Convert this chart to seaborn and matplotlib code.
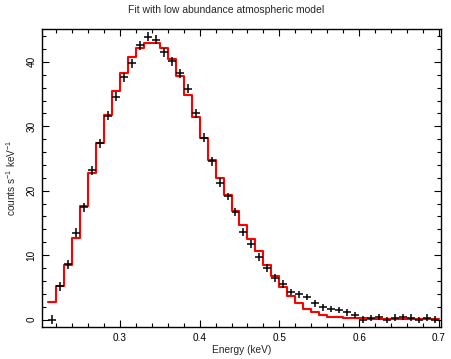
import numpy as np
import pandas as pd
import matplotlib
matplotlib.use("Agg")
import matplotlib.pyplot as plt
from matplotlib.ticker import MultipleLocator
import seaborn as sns

# ---- data ----
energy = [0.215, 0.225, 0.235, 0.245, 0.255, 0.265, 0.275, 0.285, 0.295, 0.305,
          0.315, 0.325, 0.335, 0.345, 0.355, 0.365, 0.375, 0.385, 0.395, 0.405,
          0.415, 0.425, 0.435, 0.445, 0.455, 0.465, 0.475, 0.485, 0.495, 0.505,
          0.515, 0.525, 0.535, 0.545, 0.555, 0.565, 0.575, 0.585, 0.595, 0.605,
          0.615, 0.625, 0.635, 0.645, 0.655, 0.665, 0.675, 0.685, 0.695]
bin_halfwidth = 0.005
counts = [0.0, 5.2, 8.6, 13.5, 17.4, 23.2, 27.4, 31.6, 34.6, 37.6,
          39.8, 42.6, 43.9, 43.4, 41.5, 40.1, 38.2, 35.8, 32.0, 28.2,
          24.6, 21.2, 19.1, 16.7, 13.6, 11.7, 9.7, 8.0, 6.4, 5.5,
          4.3, 3.9, 3.5, 2.5, 1.9, 1.6, 1.5, 1.1, 0.7, 0.0,
          0.2, 0.4, -0.1, 0.3, 0.4, 0.3, -0.1, 0.3, 0.0]
count_err = [0.7, 0.7, 0.7, 0.7, 0.7, 0.7, 0.7, 0.7, 0.7, 0.7,
             0.7, 0.7, 0.7, 0.7, 0.7, 0.7, 0.7, 0.7, 0.7, 0.7,
             0.7, 0.7, 0.6, 0.6, 0.6, 0.6, 0.6, 0.6, 0.6, 0.6,
             0.5, 0.5, 0.5, 0.5, 0.5, 0.5, 0.5, 0.5, 0.5, 0.5,
             0.5, 0.5, 0.5, 0.5, 0.5, 0.5, 0.5, 0.5, 0.5]
model = [2.8, 5.2, 8.5, 12.7, 17.7, 22.8, 27.4, 31.8, 35.5, 38.3,
         40.7, 42.1, 42.9, 42.9, 42.1, 40.4, 37.8, 34.8, 31.4, 28.2,
         24.8, 21.9, 19.3, 16.8, 14.6, 12.5, 10.6, 8.5, 6.7, 5.1,
         3.6, 2.5, 1.6, 1.1, 0.7, 0.45, 0.35, 0.25, 0.2, 0.2,
         0.15, 0.15, 0.1, 0.1, 0.1, 0.1, 0.1, 0.1, 0.1]

title = "Fit with low abundance atmospheric model"
xlabel = "Energy (keV)"
ylabel = r"counts s$^{-1}$ keV$^{-1}$"

# ---- style ----
sns.set_style("ticks")
plt.rcParams["font.family"] = ["Liberation Sans", "DejaVu Sans"]
plt.rcParams["mathtext.fontset"] = "custom"
plt.rcParams["mathtext.rm"] = "Liberation Sans"
plt.rcParams["mathtext.it"] = "Liberation Sans:italic"
plt.rcParams["mathtext.bf"] = "Liberation Sans:bold"

fig = plt.figure(figsize=(4.52, 3.59), dpi=100)
ax = fig.add_axes([0.0929, 0.0891, 0.8827, 0.8301])

# model as step histogram spanning bin edges
e = np.asarray(energy)
edges = np.append(e - bin_halfwidth, e[-1] + bin_halfwidth)
mdf = pd.DataFrame({"E": edges, "m": list(model) + [model[-1]]})
sns.lineplot(data=mdf, x="E", y="m", ax=ax, drawstyle="steps-post",
             color="#ff0000", linewidth=1.5, zorder=2, estimator=None, sort=False)

# data crosses
ax.errorbar(energy, counts, xerr=bin_halfwidth, yerr=count_err, fmt="none",
            ecolor="black", elinewidth=1.1, capsize=0, zorder=3)

ax.set_xlim(0.2025, 0.7025)
ax.set_ylim(-1.16, 45.1)
ax.xaxis.set_major_locator(MultipleLocator(0.1))
ax.xaxis.set_minor_locator(MultipleLocator(0.02))
ax.yaxis.set_major_locator(MultipleLocator(10))
ax.yaxis.set_minor_locator(MultipleLocator(2))
ax.set_xticks([0.3, 0.4, 0.5, 0.6, 0.7])
ax.set_xticklabels(["0.3", "0.4", "0.5", "0.6", "0.7"])

ax.tick_params(which="both", direction="in", top=True, right=True,
               colors="black", labelsize=7.2, width=0.8)
ax.tick_params(which="major", length=5, pad=4)
ax.tick_params(which="minor", length=3)
for lab in ax.get_yticklabels():
    lab.set_rotation(90)
    lab.set_va("center")
for sp in ax.spines.values():
    sp.set_linewidth(1.0)
    sp.set_color("black")

ax.set_xlabel(xlabel, fontsize=7.3, labelpad=2)
ax.set_ylabel(ylabel, fontsize=7.3, labelpad=6)
fig.text(0.5, 0.972, title, ha="center", va="center", fontsize=7.5)

fig.savefig("out.png", dpi=100)
